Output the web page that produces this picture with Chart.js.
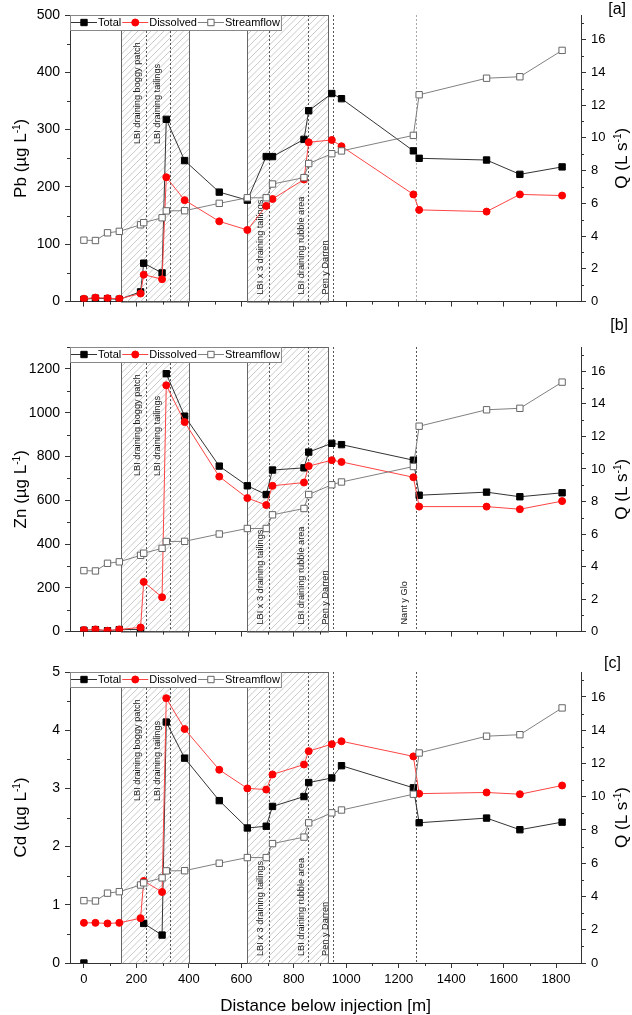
<!DOCTYPE html>
<html>
<head>
<meta charset="utf-8">
<script src="https://cdn.jsdelivr.net/npm/chart.js@4.4.1/dist/chart.umd.min.js"></script>
<style>
  body { margin: 0; background: #fff; width: 632px; height: 1015px; overflow: hidden; position: relative; }
  canvas { position: absolute; left: 0; }
</style>
</head>
<body>
<canvas id="panelA" width="632" height="315" style="top:0px"></canvas>
<canvas id="panelB" width="632" height="330" style="top:315px"></canvas>
<canvas id="panelC" width="632" height="370" style="top:645px"></canvas>
<script>
// distance below injection [m]
const distance = [0, 44, 90, 135, 216, 228, 298, 314, 384, 516, 623, 695, 719, 839, 857, 945, 982, 1256, 1278, 1535, 1662, 1823];
// streamflow Q [L/s]
const streamflow = [3.75, 3.73, 4.2, 4.29, 4.69, 4.82, 5.12, 5.54, 5.55, 6.0, 6.34, 6.34, 7.18, 7.57, 8.43, 9.03, 9.2, 10.15, 12.63, 13.64, 13.73, 15.34];
// concentrations [ug/L]
const pbTotal = [4, 6, 5, 4, 17, 67, 50, 318, 246, 191, 177, 253, 253, 283, 333, 363, 354, 263, 250, 247, 222, 235];
const pbDissolved = [5, 7, 6, 5, 14, 47, 39, 217, 177, 140, 125, 167, 179, 213, 278, 282, 271, 187, 160, 157, 187, 185];
const znTotal = [6, 9, 4, 9, 10, null, null, 1178, 984, 756, 666, 626, 738, 748, 820, 860, 854, 783, 623, 637, 616, 634];
const znDissolved = [7, 10, 4, 10, 19, 227, 157, 1125, 957, 708, 610, 578, 666, 681, 756, 783, 775, 705, 571, 571, 559, 596];
const cdTotal = [0, null, null, null, null, 0.68, 0.48, 4.14, 3.52, 2.79, 2.32, 2.35, 2.69, 2.86, 3.10, 3.18, 3.39, 3.01, 2.41, 2.49, 2.29, 2.42];
const cdDissolved = [0.69, 0.69, 0.68, 0.69, 0.77, 1.41, 1.22, 4.55, 4.02, 3.32, 3.0, 2.98, 3.24, 3.41, 3.64, 3.76, 3.81, 3.55, 2.91, 2.93, 2.90, 3.05];
const xTicks = [0, 200, 400, 600, 800, 1000, 1200, 1400, 1600, 1800];

// reaches and sites
const reaches = [[140, 400], [620, 930]];
const siteLines = [237, 328, 706, 855, 950, 1265];
const sites = [
  { text: 'LBI draining boggy patch', at: 206, top: true },
  { text: 'LBI draining tailings', at: 282, top: true },
  { text: 'LBI x 3 draining tailings', at: 672 },
  { text: 'LBI draining rubble area', at: 828 },
  { text: 'Pen y Darren', at: 919 },
  { text: 'Nant y Glo', at: 1223, onlyB: true }
];

const FONT = "'Liberation Sans', Arial, sans-serif";

function drawMarker(ctx, style, x, y, r, fill, stroke) {
  ctx.beginPath();
  if (style === 'circle') {
    ctx.arc(x, y, r, 0, Math.PI * 2);
  } else {
    const s = r * Math.SQRT1_2;
    ctx.rect(x - s, y - s, 2 * s, 2 * s);
  }
  ctx.fillStyle = fill;
  ctx.fill();
  ctx.lineWidth = 1;
  ctx.strokeStyle = stroke;
  ctx.stroke();
}

// rotated title with a superscript part
function drawTitle(ctx, cx, cy, parts) {
  ctx.save();
  ctx.translate(cx, cy);
  ctx.rotate(-Math.PI / 2);
  ctx.fillStyle = '#000';
  ctx.textBaseline = 'alphabetic';
  ctx.textAlign = 'left';
  let w = 0;
  parts.forEach(p => { ctx.font = p[1] + 'px ' + FONT; w += ctx.measureText(p[0]).width; });
  let x = -w / 2;
  parts.forEach(p => {
    ctx.font = p[1] + 'px ' + FONT;
    ctx.fillText(p[0], x, 6 - p[2]);
    x += ctx.measureText(p[0]).width;
  });
  ctx.restore();
}

function minorTicks(ctx, scale, step, where) {
  const lo = Math.ceil(scale.min / step) * step;
  ctx.beginPath();
  for (let v = lo; v <= scale.max + 1e-9; v += step) {
    const r = v / (step * 2);
    if (Math.abs(r - Math.round(r)) < 1e-6) continue;
    const p = Math.round(scale.getPixelForValue(v)) + 0.5;
    if (where === 'bottom') { ctx.moveTo(p, scale.top); ctx.lineTo(p, scale.top + 3); }
    if (where === 'left') { ctx.moveTo(scale.right, p); ctx.lineTo(scale.right - 3, p); }
    if (where === 'right') { ctx.moveTo(scale.left, p); ctx.lineTo(scale.left + 3, p); }
  }
  ctx.stroke();
}

const sitePlugin = {
  id: 'site',
  beforeDatasetsDraw(chart, args, opts) {
    const { ctx, chartArea: a, scales: { x } } = chart;
    ctx.save();
    reaches.forEach(([r0, r1]) => {
      const x0 = Math.round(x.getPixelForValue(r0)) + 0.5;
      const x1 = Math.round(x.getPixelForValue(r1)) + 0.5;
      const h = a.bottom - a.top;
      ctx.save();
      ctx.beginPath();
      ctx.rect(x0, a.top, x1 - x0, h);
      ctx.clip();
      ctx.strokeStyle = '#bdbdbd';
      ctx.lineWidth = 0.8;
      ctx.beginPath();
      for (let s = x0 - h; s < x1; s += 6.5) {
        ctx.moveTo(s, a.bottom);
        ctx.lineTo(s + h, a.top);
      }
      ctx.stroke();
      ctx.restore();
      ctx.strokeStyle = '#666';
      ctx.lineWidth = 1;
      ctx.strokeRect(x0, a.top + 0.5, x1 - x0, h);
    });

    ctx.setLineDash([2, 2]);
    ctx.lineWidth = 1;
    siteLines.forEach((d, i) => {
      const p = Math.round(x.getPixelForValue(d)) + 0.5;
      ctx.strokeStyle = (i === siteLines.length - 1 && opts.lightLast) ? '#aaa' : '#555';
      ctx.beginPath();
      ctx.moveTo(p, a.top);
      ctx.lineTo(p, a.bottom);
      ctx.stroke();
    });
    ctx.setLineDash([]);

    ctx.font = '9.2px ' + FONT;
    ctx.fillStyle = '#222';
    ctx.textBaseline = 'middle';
    ctx.textAlign = 'left';
    sites.forEach(s => {
      if (s.onlyB && !opts.nant) return;
      const px = x.getPixelForValue(s.at);
      const py = s.top ? a.top + 129 : a.bottom - 7;
      ctx.save();
      ctx.translate(px, py);
      ctx.rotate(-Math.PI / 2);
      ctx.fillText(s.text, 0, 0);
      ctx.restore();
    });
    ctx.restore();
  },
  afterDatasetsDraw(chart) {
    const { ctx, chartArea: a } = chart;
    ctx.save();
    ctx.font = '11px ' + FONT;
    const items = chart.data.datasets;
    let x = a.left + 1;
    const y = a.top + 7.5;
    const layout = items.map(ds => {
      const item = { ds, x0: x, tx: x + 27, tw: ctx.measureText(ds.label).width };
      x = item.tx + item.tw + 1;
      return item;
    });
    ctx.fillStyle = '#fff';
    ctx.fillRect(a.left, a.top, x - a.left, 15);
    ctx.strokeStyle = '#888';
    ctx.lineWidth = 1;
    ctx.strokeRect(a.left + 0.5, a.top + 0.5, x - a.left, 15);
    layout.forEach(it => {
      ctx.strokeStyle = it.ds.borderColor;
      ctx.beginPath();
      ctx.moveTo(it.x0, y);
      ctx.lineTo(it.x0 + 26, y);
      ctx.stroke();
      drawMarker(ctx, it.ds.pointStyle, it.x0 + 13, y, it.ds.pointRadius,
        it.ds.pointBackgroundColor, it.ds.pointBorderColor);
      ctx.fillStyle = '#000';
      ctx.textBaseline = 'middle';
      ctx.fillText(it.ds.label, it.tx, y + 0.5);
    });
    ctx.restore();
  },
  afterDraw(chart, args, opts) {
    const { ctx, chartArea: a, scales } = chart;
    ctx.save();
    ctx.strokeStyle = '#333';
    ctx.lineWidth = 1;
    minorTicks(ctx, scales.x, 100, 'bottom');
    minorTicks(ctx, scales.y, opts.minor, 'left');
    minorTicks(ctx, scales.y1, 1, 'right');
    const cy = (a.top + a.bottom) / 2;
    drawTitle(ctx, 20, cy, [[opts.metal + ' (\u00b5g L', 17, 0], ['-1', 10, 6], [')', 17, 0]]);
    drawTitle(ctx, 621, cy, [['Q (L s', 17, 0], ['-1', 10, 6], [')', 17, 0]]);
    ctx.font = '16px ' + FONT;
    ctx.fillStyle = '#000';
    ctx.textAlign = 'right';
    ctx.textBaseline = 'middle';
    ctx.fillText(opts.label, opts.labelX, opts.labelY);
    if (opts.xTitle) {
      ctx.font = '17px ' + FONT;
      ctx.textAlign = 'center';
      ctx.textBaseline = 'alphabetic';
      ctx.fillText('Distance below injection [m]', (a.left + a.right) / 2, 366);
    }
    ctx.restore();
  }
};

function makePanel(id, total, dissolved, p) {
  const pts = vals => distance.map((d, i) => ({ x: d, y: vals[i] }));
  const axisFont = size => ({ family: FONT, size: size });
  return new Chart(document.getElementById(id), {
    type: 'line',
    data: {
      datasets: [
        { label: 'Total', data: pts(total), yAxisID: 'y', borderColor: '#333', borderWidth: 1,
          pointStyle: 'rect', pointRadius: 4.5, pointBackgroundColor: '#000', pointBorderColor: '#000',
          pointBorderWidth: 1, order: 3 },
        { label: 'Dissolved', data: pts(dissolved), yAxisID: 'y', borderColor: '#ff4444', borderWidth: 1,
          pointStyle: 'circle', pointRadius: 3.5, pointBackgroundColor: '#ff0000', pointBorderColor: '#ff0000',
          pointBorderWidth: 1, order: 2 },
        { label: 'Streamflow', data: pts(streamflow), yAxisID: 'y1', borderColor: '#808080', borderWidth: 1,
          pointStyle: 'rect', pointRadius: 4.5, pointBackgroundColor: '#ffffff', pointBorderColor: '#666',
          pointBorderWidth: 1, order: 1 }
      ]
    },
    options: {
      responsive: false,
      animation: false,
      events: [],
      layout: { padding: { top: p.padTop, left: 0, right: 0, bottom: 0 } },
      plugins: {
        legend: { display: false },
        tooltip: { enabled: false },
        site: { metal: p.metal, minor: p.step / 2, label: p.label, labelX: p.labelX, labelY: p.labelY,
                nant: p.nant, lightLast: p.lightLast, xTitle: p.xTitle }
      },
      scales: {
        x: {
          type: 'linear', min: -53, max: 1895,
          afterFit: s => { s.height = p.xHeight; },
          border: { color: '#333', width: 1 },
          grid: { drawOnChartArea: false, tickLength: 5, tickColor: '#333' },
          afterBuildTicks: s => { s.ticks = xTicks.map(v => ({ value: v })); },
          ticks: { padding: 4, autoSkip: false, maxRotation: 0, font: axisFont(13),
                   color: p.xTitle ? '#000' : 'rgba(0,0,0,0)', callback: v => String(v) }
        },
        y: {
          position: 'left', min: 0, max: p.max,
          afterFit: s => { s.width = 70; },
          border: { color: '#333', width: 1 },
          grid: { drawOnChartArea: false, tickLength: 5, tickColor: '#333' },
          ticks: { stepSize: p.step, includeBounds: false, padding: 5, font: axisFont(14), color: '#000',
                   callback: v => String(v) }
        },
        y1: {
          position: 'right', min: 0, max: 17.5,
          afterFit: s => { s.width = 51; },
          border: { color: '#333', width: 1 },
          grid: { drawOnChartArea: false, tickLength: 5, tickColor: '#333' },
          ticks: { stepSize: 2, includeBounds: false, padding: 5, font: axisFont(13), color: '#000',
                   callback: v => String(v) }
        }
      }
    },
    plugins: [sitePlugin]
  });
}

makePanel('panelA', pbTotal, pbDissolved,
  { metal: 'Pb', max: 500, step: 100, padTop: 15, xHeight: 8, label: '[a]', labelX: 626, labelY: 9.5,
    nant: false, lightLast: true, xTitle: false });
makePanel('panelB', znTotal, znDissolved,
  { metal: 'Zn', max: 1300, step: 200, padTop: 32, xHeight: 7, label: '[b]', labelX: 628, labelY: 10.5,
    nant: true, lightLast: false, xTitle: false });
makePanel('panelC', cdTotal, cdDissolved,
  { metal: 'Cd', max: 5, step: 1, padTop: 27, xHeight: 52, label: '[c]', labelX: 621, labelY: 19,
    nant: false, lightLast: false, xTitle: true });
</script>
</body>
</html>
